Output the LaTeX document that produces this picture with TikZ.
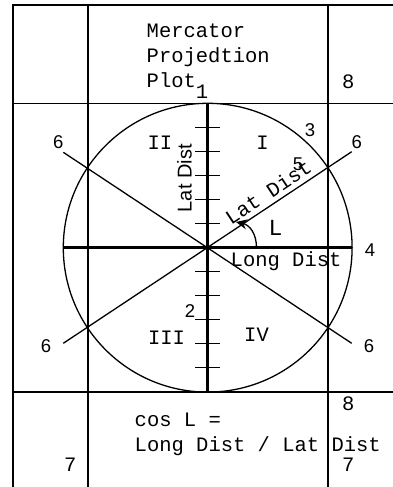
\documentclass[tikz,border=0pt]{standalone}
\usepackage{fontspec}
\setmainfont{Liberation Serif}
\newfontfamily\monof{Liberation Mono}
\newfontfamily\sansf{Liberation Sans}
\usetikzlibrary{arrows.meta}
\begin{document}
\begin{tikzpicture}[x=1pt,y=-1pt,
  thickln/.style={line width=2.9pt},
  thinln/.style={line width=1.3pt},
  mono/.style={font=\monof\fontsize{20.5}{24}\selectfont, inner sep=0pt},
  bigmono/.style={font=\monof\fontsize{23}{26}\selectfont, inner sep=0pt},
  sansd/.style={font=\sansf\fontsize{18.5}{22}\selectfont, inner sep=0pt},
  sanslab/.style={font=\sansf\fontsize{20}{24}\selectfont, inner sep=0pt}]
\useasboundingbox (0,0) rectangle (393,487);
% frame
\draw[thickln] (13,487) -- (13,5) -- (393,5);
\draw[thinln] (88,6) -- (88,487);
\draw[thinln] (328,6) -- (328,487);
\draw[thinln] (13,103.3) -- (393,103.3);
\draw[thinln] (13,392) -- (393,392);
% circle
\coordinate (O) at (207.7,247.7);
\draw[thinln] (O) circle[radius=144.4];
% axes
\draw[thickln] (63.3,247.7) -- (352.1,247.7);
\draw[thickln] (207.7,103.3) -- (207.7,392.1);
\foreach \k in {-5,-4,-3,-2,-1,1,2,3,4,5}
  \draw[thinln] (195,247.7+24*\k) -- (220,247.7+24*\k);
% diagonals
\coordinate (UL) at (63.3,152.3);
\coordinate (LR) at (351.7,343.3);
\coordinate (UR) at (351.7,151.7);
\coordinate (LL) at (63.3,343.3);
\draw[thinln] (UL) -- (LR);
\draw[thinln] (UR) -- (LL);
% angle arc
\coordinate (A0) at (256.5,247.7);
\coordinate (A1) at (236,222);
\draw[thinln,-{Stealth[length=11pt,width=10pt]}] (A0) .. controls (256.5,234) and (250,225) .. (A1);
% texts
\node[mono,anchor=base west] (t1) at (146.5,37.3) {Mercator};
\node[mono,anchor=base west] (t2) at (146.5,62.3) {Projedtion};
\node[mono,anchor=base west] (t3) at (146.5,87.3) {Plot};
\node[mono,anchor=base] (n1) at (202,99) {1};
\node[mono,anchor=base west] (n8a) at (342,88.3) {8};
\node[mono,anchor=base west] (n8b) at (342,410) {8};
\node[mono,anchor=base west] (n7a) at (64,471.7) {7};
\node[mono,anchor=base west] (n7b) at (342,471.7) {7};
\node[mono,anchor=base west] (c1) at (134.5,426.7) {cos L =};
\node[mono,anchor=base west] (c2) at (134.5,451.7) {Long Dist / Lat Dist};
\node[mono,anchor=base west] (ld) at (230.5,266.7) {Long Dist};
\node[bigmono] (bigL) at (275.5,228.3) {L};
\node[mono] (q1) at (262.5,142.5) {I};
\node[mono] (q2) at (160,142.5) {II};
\node[mono] (q3) at (166.5,338) {III};
\node[mono] (q4) at (256.5,335) {IV};
\node[mono,rotate=33.5] (latd) at (268,192) {Lat Dist};
\node[sanslab,anchor=base,rotate=90] (latv) at (191.7,178.3) {Lat Dist};
\node[sansd] (s6a) at (58.3,141.7) {6};
\node[sansd] (s6b) at (356.7,142) {6};
\node[sansd] (s6c) at (46,346) {6};
\node[sansd] (s6d) at (369,346) {6};
\node[sansd] (s3) at (310,130.5) {3};
\node[sansd] (s5) at (298,164) {5};
\node[sansd] (s4) at (370,250) {4};
\node[sansd] (s2) at (190,311) {2};
\end{tikzpicture}
\end{document}
